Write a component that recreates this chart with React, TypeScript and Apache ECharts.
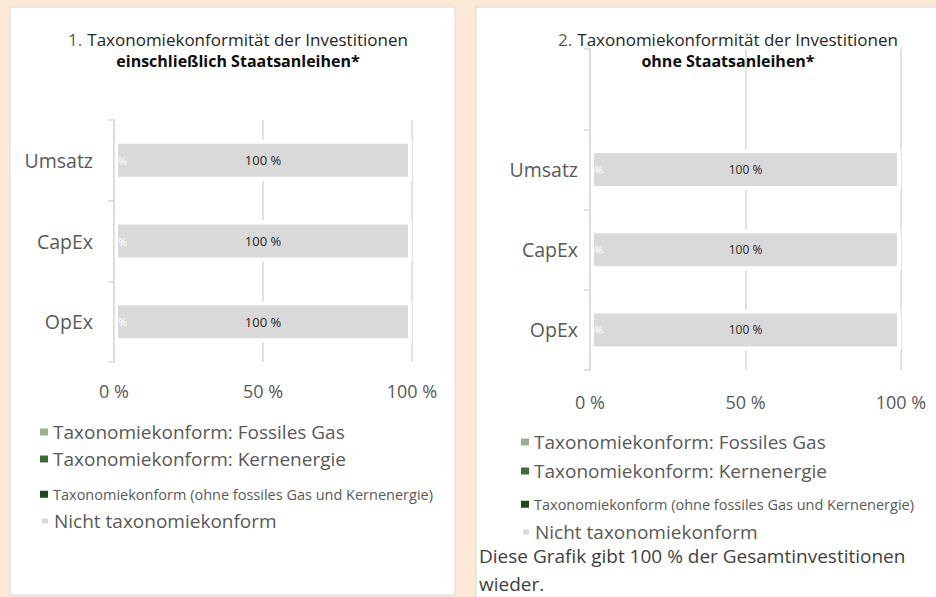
import React, { useEffect, useRef } from "react";
import * as echarts from "echarts";

const FONT = "'Open Sans', 'Noto Sans', sans-serif";

// ---- data ----
const leftCategories = ["Umsatz", "CapEx", "OpEx"];
const rightCategories = ["", "Umsatz", "CapEx", "OpEx"];
const seriesNames = [
  "Taxonomiekonform: Fossiles Gas",
  "Taxonomiekonform: Kernenergie",
  "Taxonomiekonform (ohne fossiles Gas und Kernenergie)",
  "Nicht taxonomiekonform",
];
const seriesColors = ["#9DAE92", "#3E6B38", "#1F4A1B", "#D9D9D9"];
const leftFossilGas = [0, 0, 0];
const leftNuclear = [0, 0, 0];
const leftAligned = [0, 0, 0];
const leftNotAligned = [100, 100, 100];
const rightFossilGas = [null, 0, 0, 0];
const rightNuclear = [null, 0, 0, 0];
const rightAligned = [null, 0, 0, 0];
const rightNotAligned = [null, 100, 100, 100];
const xTicks = [0, 50, 100];
const leftTitle = ["1.", "Taxonomiekonformität der Investitionen", "einschließlich Staatsanleihen*"];
const rightTitle = ["2.", "Taxonomiekonformität der Investitionen", "ohne Staatsanleihen*"];
const footnote = ["Diese Grafik gibt 100 % der Gesamtinvestitionen", "wieder."];

export default function App() {
  const ref = useRef<HTMLDivElement>(null);
  useEffect(() => {
    document.body.style.margin = "0";
    const chart = echarts.init(ref.current!, undefined, { renderer: "svg" });

    const leftData = [leftFossilGas, leftNuclear, leftAligned, leftNotAligned];
    const rightData = [rightFossilGas, rightNuclear, rightAligned, rightNotAligned];

    const makeSeries = (data: (number | null)[][], idx: number, stack: string, labelSize: number) =>
      data.map((vals, i) => ({
        type: "bar",
        name: seriesNames[i],
        stack,
        xAxisIndex: idx,
        yAxisIndex: idx,
        barWidth: 41,
        data: vals,
        itemStyle: {
          color: seriesColors[i],
          borderColor: "#ffffff",
          borderWidth: i === 3 ? 4 : 0,
        },
        label:
          i === 0
            ? {
                show: true,
                position: "insideLeft",
                distance: 4,
                formatter: "%",
                color: "#ffffff",
                fontSize: 11,
                fontFamily: FONT,
              }
            : i === 3
            ? {
                show: true,
                position: "inside",
                formatter: (p: any) => `${p.value} %`,
                color: "#262626",
                fontSize: labelSize,
                fontFamily: FONT,
              }
            : { show: false },
      }));

    const xAxisBase = (gridIndex: number, margin: number) => ({
      type: "value",
      gridIndex,
      min: xTicks[0],
      max: xTicks[xTicks.length - 1],
      interval: xTicks[1] - xTicks[0],
      axisLine: { show: false },
      axisTick: { show: false },
      splitLine: { show: true, lineStyle: { color: "#D9D9D9", width: 1.5 } },
      axisLabel: {
        formatter: "{value} %",
        color: "#595959",
        fontSize: 18,
        fontFamily: FONT,
        margin,
      },
    });

    const yAxisBase = (gridIndex: number, data: string[], margin: number) => ({
      type: "category",
      gridIndex,
      data,
      inverse: true,
      z: 3,
      axisLine: { show: true, lineStyle: { color: "#D9D9D9", width: 1.5 } },
      axisTick: { show: true, length: 6, lineStyle: { color: "#D9D9D9", width: 1.5 } },
      axisLabel: { color: "#595959", fontSize: 19.5, fontFamily: FONT, margin },
    });

    const legendRows = (left: number, tops: number[]) =>
      seriesNames.map((name, i) => {
        const fs = i === 2 ? 14.5 : 19;
        return {
          left,
          top: tops[i] - fs / 2 - 1,
          padding: 0,
          orient: "vertical",
          icon: "rect",
          itemWidth: 8,
          itemHeight: 7,
          itemGap: 0,
          selectedMode: false,
          data: [{ name, textStyle: { fontSize: fs, color: "#595959", fontFamily: FONT } }],
        };
      });

    const titleRich = {
      n: { fontSize: 17, color: "#595959", fontWeight: "normal", fontFamily: FONT, lineHeight: 21 },
      a: { fontSize: 17, color: "#262626", fontWeight: "normal", fontFamily: FONT, lineHeight: 21 },
      b: { fontSize: 16, color: "#0D0D0D", fontWeight: "bold", fontFamily: FONT, lineHeight: 21 },
    };

    chart.setOption({
      animation: false,
      backgroundColor: "#FBE8D7",
      graphic: [
        {
          type: "rect",
          shape: { x: 10, y: 7, width: 445, height: 588 },
          style: { fill: "#ffffff", stroke: "#D9D9D9", lineWidth: 1 },
          z: -10,
        },
        {
          type: "rect",
          shape: { x: 476, y: 7, width: 480, height: 600 },
          style: { fill: "#ffffff", stroke: "#D9D9D9", lineWidth: 1 },
          z: -10,
        },
      ],
      title: [
        {
          left: 238,
          top: 29,
          textAlign: "center",
          padding: 0,
          text: `{n|${leftTitle[0]}} {a|${leftTitle[1]}}\n{b|${leftTitle[2]}}`,
          textStyle: { fontWeight: "normal", rich: titleRich },
        },
        {
          left: 728,
          top: 29,
          textAlign: "center",
          padding: 0,
          text: `{n|${rightTitle[0]}} {a|${rightTitle[1]}}\n{b|${rightTitle[2]}}`,
          textStyle: { fontWeight: "normal", rich: titleRich },
        },
        {
          left: 479,
          top: 542,
          padding: 0,
          text: footnote.join("\n"),
          textStyle: { fontSize: 19, color: "#404040", fontWeight: "normal", fontFamily: FONT, lineHeight: 28 },
        },
      ],
      legend: [...legendRows(40, [433, 460, 495, 522]), ...legendRows(521, [443, 472, 505, 533])],
      grid: [
        { left: 114, top: 120, width: 298, height: 242 },
        { left: 590, top: 49, width: 311, height: 321 },
      ],
      xAxis: [xAxisBase(0, 20), xAxisBase(1, 23)],
      yAxis: [yAxisBase(0, leftCategories, 21), yAxisBase(1, rightCategories, 12)],
      series: [...makeSeries(leftData, 0, "L", 13), ...makeSeries(rightData as any, 1, "R", 12)],
    });
    return () => chart.dispose();
  }, []);
  return <div ref={ref} style={{ width: 936, height: 597 }} />;
}
